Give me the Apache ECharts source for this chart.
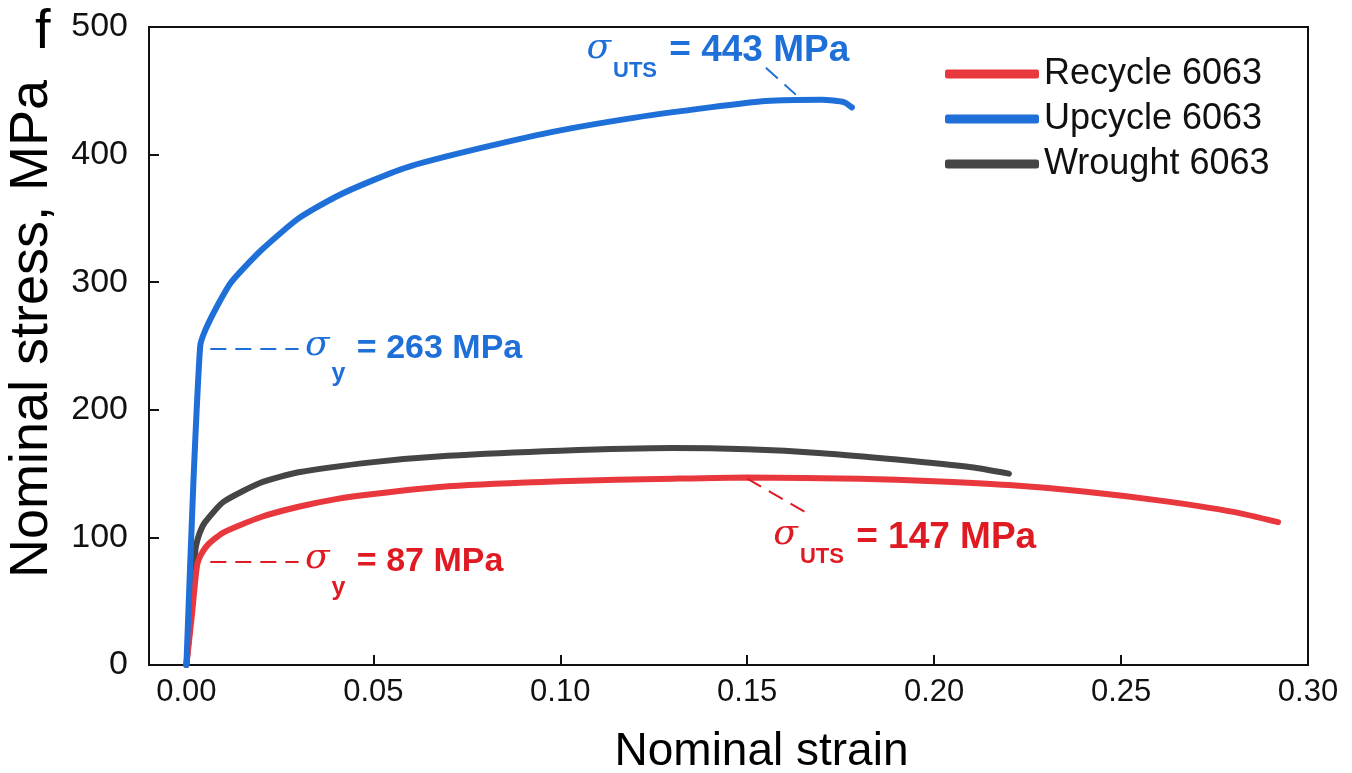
<!DOCTYPE html>
<html style="height: 100%">
<head>
    <meta charset="utf-8">
    <title>Nominal stress-strain</title>
</head>
<body style="height: 100%; margin: 0; background: #fff">
    <div id="container" style="width: 1352px; height: 773px"></div>
    <script type="text/javascript" src="https://cdn.jsdelivr.net/npm/echarts@6/dist/echarts.min.js"></script>
    <script type="text/javascript">
        // [strain, stress MPa]
        var recycle = [
            [0, 0], [0.0015, 40], [0.0025, 70], [0.003, 80], [0.004, 87], [0.006, 95],
            [0.01, 104], [0.02, 116], [0.03, 124], [0.04, 130], [0.05, 134],
            [0.07, 140], [0.10, 144], [0.13, 146], [0.15, 147], [0.18, 146],
            [0.20, 144], [0.22, 141], [0.24, 136], [0.26, 129], [0.28, 120], [0.292, 112]
        ];
        var upcycle = [
            [0, 0], [0.0019, 145], [0.0037, 250], [0.005, 262], [0.008, 280], [0.012, 300],
            [0.02, 325], [0.03, 350], [0.04, 367], [0.05, 380], [0.06, 391],
            [0.08, 406], [0.10, 419], [0.12, 429], [0.14, 437], [0.155, 442],
            [0.17, 443], [0.176, 441], [0.178, 437]
        ];
        var wrought = [
            [0, 0], [0.0015, 50], [0.0024, 90], [0.0035, 103], [0.005, 112], [0.01, 128],
            [0.02, 143], [0.03, 151], [0.05, 159], [0.07, 164], [0.10, 168],
            [0.13, 170], [0.15, 169], [0.17, 166], [0.19, 161], [0.21, 155], [0.22, 150]
        ];
        var xTicks = [0, 0.05, 0.10, 0.15, 0.20, 0.25, 0.30];

        var red = '#e8383d', redText = '#df1a22';
        var blue = '#1f6fd8', blueText = '#1f6fd8';
        var gray = '#454545';

        function richFor(color, size, subSize, drop) {
            return {
                s: { fontFamily: 'DejaVu Serif', fontStyle: 'italic', fontSize: 36, color: color, padding: [0, 2, 6, 0] },
                sub: { fontFamily: 'Liberation Sans', fontWeight: 'bold', fontSize: subSize, color: color, padding: [drop * 2, 2, 0, 0] },
                t: { fontFamily: 'Liberation Sans', fontWeight: 'bold', fontSize: size, color: color }
            };
        }

        function note(coord, sub, text, color, size, subSize, drop) {
            return {
                coord: coord,
                symbol: 'circle',
                symbolSize: 0,
                label: {
                    show: true,
                    position: 'right',
                    distance: 0,
                    formatter: '{s|σ}{sub|' + sub + '}{t| = ' + text + '}',
                    rich: richFor(color, size, subSize, drop)
                }
            };
        }

        function leader(a, b, color) {
            return [{ coord: a, lineStyle: { color: color } }, { coord: b }];
        }

        var dom = document.getElementById('container');
        var myChart = echarts.init(dom);

        var option = {
            animation: false,
            title: {
                text: 'f',
                left: 30,
                top: 0,
                textStyle: { fontFamily: 'Liberation Sans', fontWeight: 'normal', fontSize: 56, color: '#000' }
            },
            grid: {
                left: 149, right: 44, top: 27, bottom: 108,
                outerBoundsMode: 'none',
                containLabel: false,
                show: true, borderColor: '#111', borderWidth: 2
            },
            legend: {
                orient: 'vertical',
                left: 940,
                top: 51,
                itemGap: 9,
                itemWidth: 94,
                itemHeight: 9,
                icon: 'roundRect',
                textStyle: { fontFamily: 'Liberation Sans', fontSize: 36, color: '#111' },
                data: ['Recycle 6063', 'Upcycle 6063', 'Wrought 6063']
            },
            xAxis: {
                type: 'value',
                min: -0.01,
                max: 0.30,
                name: 'Nominal strain',
                nameLocation: 'middle',
                nameGap: 64,
                nameTextStyle: { fontFamily: 'Liberation Sans', fontSize: 46, color: '#000', padding: [0, 0, 0, 66] },
                axisLine: { onZero: false, lineStyle: { color: '#111', width: 2 } },
                axisTick: { inside: true, length: 10, customValues: xTicks, lineStyle: { color: '#111', width: 2 } },
                axisLabel: {
                    customValues: xTicks,
                    margin: 12,
                    fontFamily: 'Liberation Sans', fontSize: 31, color: '#111',
                    formatter: function (v) { return v.toFixed(2); }
                },
                splitLine: { show: false }
            },
            yAxis: {
                type: 'value',
                min: 0,
                max: 500,
                interval: 100,
                name: 'Nominal stress, MPa',
                nameLocation: 'middle',
                nameGap: 90,
                nameTextStyle: { fontFamily: 'Liberation Sans', fontSize: 54, color: '#000', padding: [0, 0, 0, 34] },
                axisLine: { show: true, onZero: false, lineStyle: { color: '#111', width: 2 } },
                axisTick: { show: true, inside: true, length: 10, lineStyle: { color: '#111', width: 2 } },
                axisLabel: { margin: 21, fontFamily: 'Liberation Sans', fontSize: 34, color: '#111' },
                splitLine: { show: false }
            },
            series: [{
                name: 'Recycle 6063',
                type: 'line',
                data: recycle,
                showSymbol: false,
                smooth: 0.2,
                itemStyle: { color: red },
                lineStyle: { color: red, width: 6, cap: 'round' },
                z: 3,
                markLine: {
                    silent: true,
                    symbol: 'none',
                    label: { show: false },
                    lineStyle: { type: [16, 9], width: 2, color: redText },
                    data: [
                        leader([0.0064, 81], [0.030, 81], redText),
                        leader([0.150, 146], [0.166, 119], redText)
                    ]
                },
                markPoint: {
                    silent: true,
                    data: [
                        note([0.0317, 81], 'y', '87 MPa', redText, 34, 25, 26),
                        note([0.157, 100], 'UTS', '147 MPa', redText, 37, 22, 20)
                    ]
                }
            }, {
                name: 'Upcycle 6063',
                type: 'line',
                data: upcycle,
                showSymbol: false,
                smooth: 0.2,
                itemStyle: { color: blue },
                lineStyle: { color: blue, width: 6, cap: 'round' },
                z: 4,
                markLine: {
                    silent: true,
                    symbol: 'none',
                    label: { show: false },
                    lineStyle: { type: [16, 9], width: 2, color: blueText },
                    data: [
                        leader([0.0064, 248], [0.030, 248], blueText),
                        leader([0.155, 468], [0.163, 447], blueText)
                    ]
                },
                markPoint: {
                    silent: true,
                    data: [
                        note([0.0317, 248], 'y', '263 MPa', blueText, 34, 25, 26),
                        note([0.107, 481], 'UTS', '443 MPa', blueText, 37, 22, 20)
                    ]
                }
            }, {
                name: 'Wrought 6063',
                type: 'line',
                data: wrought,
                showSymbol: false,
                smooth: 0.2,
                itemStyle: { color: gray },
                lineStyle: { color: gray, width: 6, cap: 'round' },
                z: 2
            }]
        };

        if (option && typeof option === 'object') {
            myChart.setOption(option, true);
        }
    </script>
</body>
</html>
